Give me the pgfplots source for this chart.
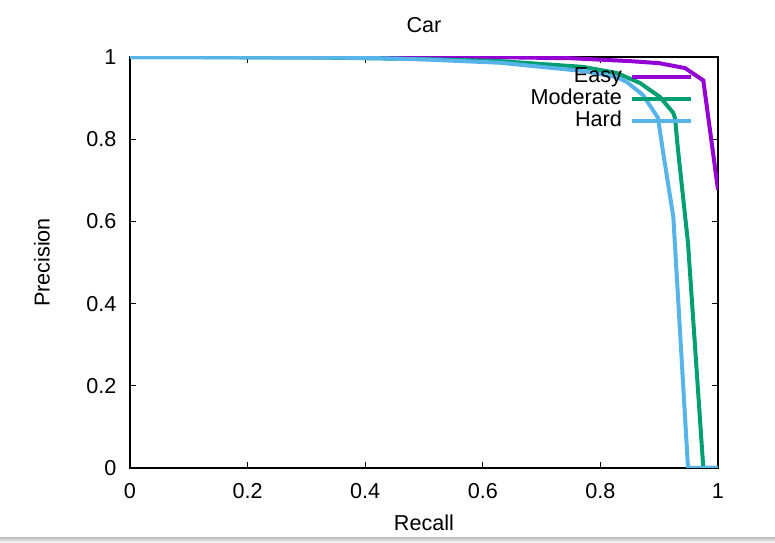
\documentclass[border=0pt]{standalone}
\usepackage{fontspec}
\setmainfont{Liberation Sans}
\usepackage{pgfplots}
\pgfplotsset{compat=1.18}

\definecolor{easyc}{HTML}{9400D3}
\definecolor{modc}{HTML}{009E73}
\definecolor{hardc}{HTML}{56B4E9}

\begin{document}
\fontsize{10.8bp}{13bp}\selectfont
\begin{tikzpicture}
\useasboundingbox (-65bp,-37.5bp) rectangle (322.5bp,234bp);
\shade[top color=gray!55, bottom color=white] (-65bp,-34.5bp) rectangle (322.5bp,-37.5bp);
\begin{axis}[
    at={(0,0)}, anchor=south west,
    scale only axis,
    width=294bp, height=205.5bp,
    xmin=0, xmax=1, ymin=0, ymax=1,
    xtick={0,0.2,0.4,0.6,0.8,1},
    ytick={0,0.2,0.4,0.6,0.8,1},
    tick pos=both, tick align=inside,
    major tick length=3bp,
    tick style={black, line width=0.6bp},
    axis line style={black, line width=1bp},
    /pgf/number format/assume math mode=true,
    tick label style={font=\fontsize{10.8bp}{13bp}\selectfont},
    xticklabel style={yshift=-4bp},
    yticklabel style={xshift=-3bp},
    title={Car},
    title style={at={(0.5,1.078)}, anchor=center, yshift=-6bp, font=\fontsize{10.8bp}{13bp}\selectfont},
    xlabel={Recall},
    xlabel style={at={(0.5,-0.134)}, anchor=center, font=\fontsize{10.8bp}{13bp}\selectfont},
    ylabel={Precision},
    ylabel style={at={(-0.1497,0.5)}, anchor=center, font=\fontsize{10.8bp}{13bp}\selectfont},
    legend plot pos=right,
    legend cell align=right,
    legend image code/.code={\draw[#1] (0bp,0bp) -- (29.5bp,0bp);},
    legend style={draw=none, fill=none, at={(0.958,0.978)}, anchor=north east,
        inner sep=0pt, row sep=0pt, column sep=4bp,
        font=\fontsize{10.8bp}{13bp}\selectfont,
        nodes={inner sep=0pt, text height=8bp, text depth=3bp}},
    every axis plot/.append style={line width=2bp},
]
\addplot[easyc] coordinates {
    (0,1) (0.6,1) (0.75,0.997) (0.85,0.99) (0.9,0.985) (0.944,0.973) (0.975,0.943) (1.0,0.677)
};
\addlegendentry{Easy}
\addplot[modc] coordinates {
    (0,1) (0.3,0.999) (0.5,0.995) (0.629,0.99) (0.77,0.976) (0.828,0.961) (0.867,0.937)
    (0.901,0.903) (0.924,0.864) (0.927,0.85) (0.932,0.774) (0.949,0.547) (0.975,0) (1,0)
};
\addlegendentry{Moderate}
\addplot[hardc] coordinates {
    (0,1) (0.4,0.998) (0.5,0.994) (0.629,0.986) (0.77,0.966) (0.828,0.951) (0.845,0.939)
    (0.872,0.908) (0.898,0.852) (0.906,0.774) (0.924,0.611) (0.949,0) (1,0)
};
\addlegendentry{Hard}
\end{axis}
\end{tikzpicture}
\end{document}
